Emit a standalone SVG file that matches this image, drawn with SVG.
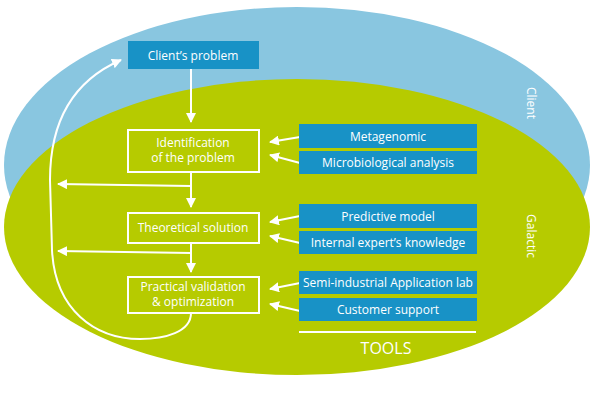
<svg xmlns="http://www.w3.org/2000/svg" width="601" height="400" viewBox="0 0 601 400">
<defs>
<marker id="ah" markerWidth="10" markerHeight="10" refX="9" refY="5" orient="auto" markerUnits="userSpaceOnUse">
<path d="M0,0 L10,5 L0,10 Z" fill="#fff"/>
</marker>
<style>
.t{font-family:"Open Sans","Liberation Sans",sans-serif;font-size:12px;fill:#fff;text-anchor:middle}
.tool{fill:#1892C6}
.ob{fill:none;stroke:#fff;stroke-width:2}
.c{fill:none;stroke:#fff;stroke-width:2;marker-end:url(#ah)}
</style>
</defs>
<g id="ellipses">
<ellipse cx="297" cy="165" rx="293" ry="158" fill="#89C6E0"/>
<ellipse cx="297" cy="227" rx="293" ry="148" fill="#B6CB00"/>
<text class="t" transform="translate(527,103) rotate(90)">Client</text>
<text class="t" transform="translate(527,236) rotate(90)">Galactic</text>
</g>
<g id="connectors">
<path class="c" d="M191,69 L191,122"/>
<path class="c" d="M191,172 L191,207"/>
<path class="c" d="M191,186 L58,184"/>
<path class="c" d="M191,243 L191,272"/>
<path class="c" d="M191,253 L58,251"/>
<path class="c" d="M191,313 C191,332 165,339 140,339 C95,339 55,310 52,250 L50,180 C50,120 75,80 121,60"/>
<path class="c" d="M300,137 L270,142"/>
<path class="c" d="M300,163 L270,155"/>
<path class="c" d="M300,216 L270,222"/>
<path class="c" d="M300,243 L270,236"/>
<path class="c" d="M300,283 L270,289"/>
<path class="c" d="M300,311 L270,304"/>
</g>
<g id="n-client">
<rect class="tool" x="128" y="41" width="131" height="28"/>
<text class="t" x="193" y="59.5">Client’s problem</text>
</g>
<g id="n-ident">
<rect class="ob" x="128" y="130" width="131" height="42"/>
<text class="t" x="193" y="147">Identification</text>
<text class="t" x="193" y="162">of the problem</text>
</g>
<g id="n-theory">
<rect class="ob" x="128" y="213" width="131" height="30"/>
<text class="t" x="193" y="232">Theoretical solution</text>
</g>
<g id="n-practical">
<rect class="ob" x="128" y="277" width="131" height="36"/>
<text class="t" x="193" y="291">Practical validation</text>
<text class="t" x="193" y="306">&amp; optimization</text>
</g>
<g id="n-meta">
<rect class="tool" x="299" y="124" width="178" height="24"/>
<text class="t" x="388" y="140.5">Metagenomic</text>
</g>
<g id="n-micro">
<rect class="tool" x="299" y="151" width="178" height="23"/>
<text class="t" x="388" y="167">Microbiological analysis</text>
</g>
<g id="n-pred">
<rect class="tool" x="299" y="204" width="178" height="24"/>
<text class="t" x="388" y="220.5">Predictive model</text>
</g>
<g id="n-expert">
<rect class="tool" x="299" y="231" width="178" height="23"/>
<text class="t" x="388" y="247">Internal expert’s knowledge</text>
</g>
<g id="n-semi">
<rect class="tool" x="299" y="271" width="178" height="23"/>
<text class="t" x="388" y="287">Semi-industrial Application lab</text>
</g>
<g id="n-cust">
<rect class="tool" x="299" y="298" width="178" height="23"/>
<text class="t" x="388" y="314">Customer support</text>
</g>
<g id="tools-label">
<line x1="299" y1="332" x2="476" y2="332" stroke="#fff" stroke-width="2"/>
<text class="t" x="386" y="354" style="font-size:16px">TOOLS</text>
</g>
</svg>
